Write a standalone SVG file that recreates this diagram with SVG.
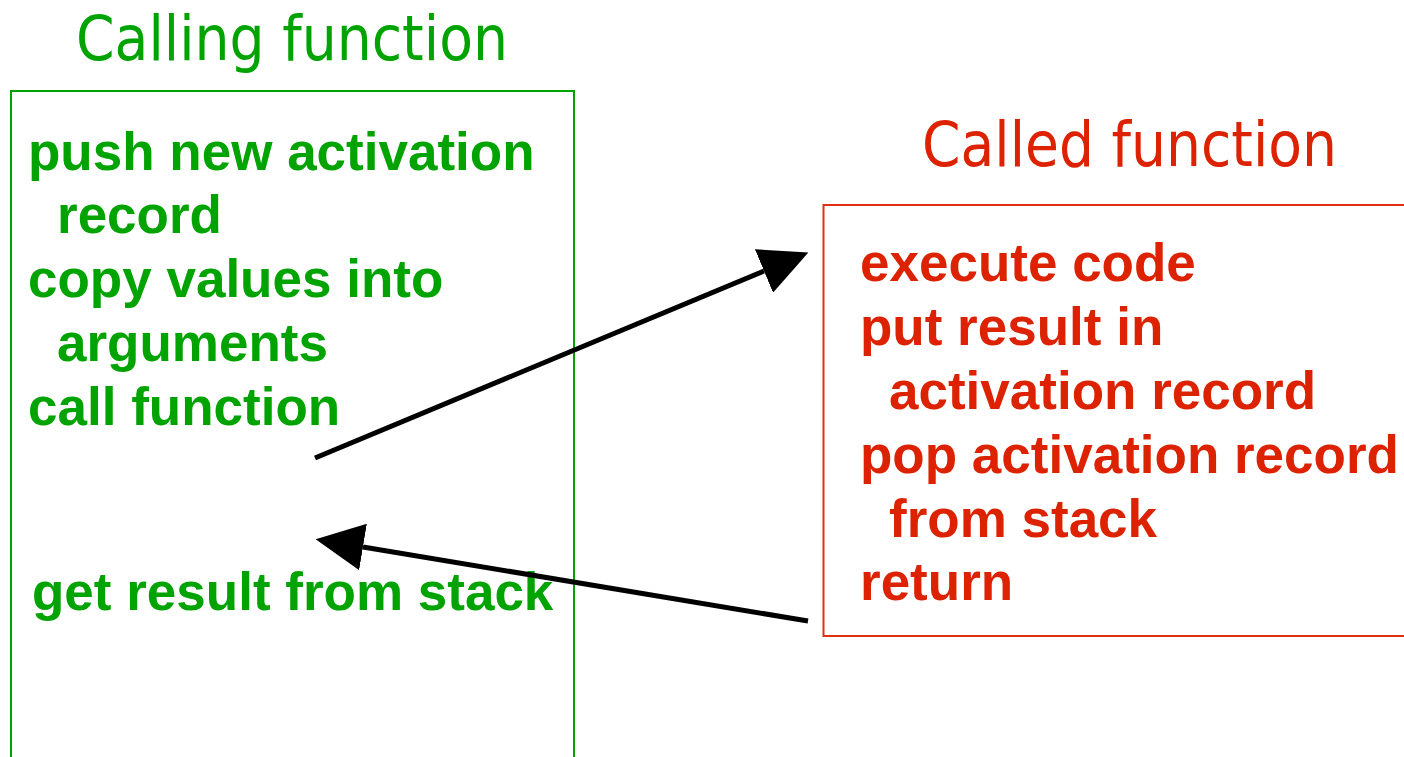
<svg xmlns="http://www.w3.org/2000/svg" width="1404" height="757" viewBox="0 0 1404 757">
<style>
.title{font-family:"DejaVu Sans","Liberation Sans",sans-serif;font-size:63px}
.body{font-family:"Liberation Sans",Arial,sans-serif;font-size:53px;font-weight:bold}
.green{fill:#00a300}
.red{fill:#dc2200}
.conn{stroke:#000;stroke-width:5;fill:none}
</style>
<defs>
<marker id="ah" viewBox="0 0 48 47" refX="0" refY="23.5" markerWidth="48" markerHeight="47" markerUnits="userSpaceOnUse" orient="auto">
<path d="M0,0 L48,23.5 L0,47 z" fill="#000"/>
</marker>
</defs>
<rect width="1404" height="757" fill="#fff"/>
<g id="calling">
<text class="title green" x="76" y="60" textLength="432" lengthAdjust="spacingAndGlyphs">Calling function</text>
<rect x="11" y="91" width="563" height="700" fill="none" stroke="#00a300" stroke-width="2"/>
<text class="body green" x="28" y="170">push new activation</text>
<text class="body green" x="57" y="233">record</text>
<text class="body green" x="28" y="297">copy values into</text>
<text class="body green" x="57" y="361">arguments</text>
<text class="body green" x="28" y="425">call function</text>
<text class="body green" x="32" y="610">get result from stack</text>
</g>
<g id="called">
<text class="title red" x="922" y="166" textLength="415" lengthAdjust="spacingAndGlyphs">Called function</text>
<rect x="823.5" y="205" width="620" height="431" fill="none" stroke="#e03010" stroke-width="2"/>
<text class="body red" x="860" y="281">execute code</text>
<text class="body red" x="860" y="345">put result in</text>
<text class="body red" x="889" y="409">activation record</text>
<text class="body red" x="860" y="473">pop activation record</text>
<text class="body red" x="889" y="537">from stack</text>
<text class="body red" x="860" y="600">return</text>
</g>
<g id="connectors">
<path class="conn" d="M315,458 L764,271" marker-end="url(#ah)"/>
<path class="conn" d="M808,621 L363,547" marker-end="url(#ah)"/>
</g>
</svg>
